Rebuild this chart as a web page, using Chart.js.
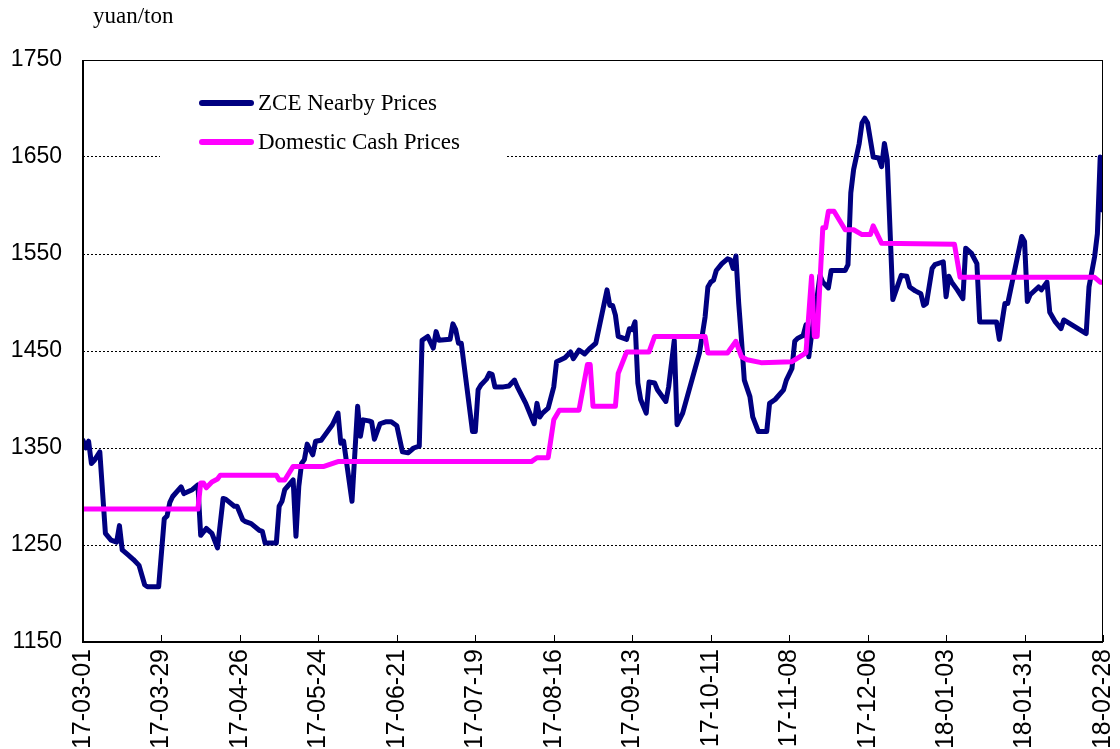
<!DOCTYPE html>
<html>
<head>
<meta charset="utf-8">
<script src="https://cdn.jsdelivr.net/npm/chart.js@4/dist/chart.umd.min.js"></script>
<style>
html,body{margin:0;padding:0;background:#fff;}
#wrap{width:1120px;height:749px;}
</style>
</head>
<body>
<div id="wrap"><canvas id="c" width="1120" height="749"></canvas></div>
<script>
// ---- data ----
const unitLabel = 'yuan/ton';
const seriesNames = ['ZCE Nearby Prices', 'Domestic Cash Prices'];
const seriesColors = ['#000080', '#FF00FF'];
const startDate = '2017-03-01';
const endDate = '2018-02-28';
const yTicks = [1150, 1250, 1350, 1450, 1550, 1650, 1750];

const zceDates = [
'2017-03-01','2017-03-02','2017-03-03','2017-03-04','2017-03-05','2017-03-07','2017-03-09','2017-03-11','2017-03-13','2017-03-14',
'2017-03-15','2017-03-17','2017-03-19','2017-03-21','2017-03-23','2017-03-24','2017-03-28','2017-03-30','2017-03-31','2017-04-01',
'2017-04-02','2017-04-05','2017-04-06','2017-04-09','2017-04-11','2017-04-12','2017-04-14','2017-04-16','2017-04-18','2017-04-20',
'2017-04-21','2017-04-24','2017-04-25','2017-04-27','2017-04-28','2017-04-30','2017-05-03','2017-05-04','2017-05-05','2017-05-09',
'2017-05-10','2017-05-11','2017-05-12','2017-05-15','2017-05-16','2017-05-17','2017-05-18','2017-05-19','2017-05-20','2017-05-22',
'2017-05-23','2017-05-25','2017-05-26','2017-05-29','2017-05-31','2017-06-01','2017-06-02','2017-06-05','2017-06-07','2017-06-08',
'2017-06-09','2017-06-11','2017-06-12','2017-06-13','2017-06-15','2017-06-17','2017-06-19','2017-06-21','2017-06-23','2017-06-25',
'2017-06-27','2017-06-29','2017-06-30','2017-07-02','2017-07-04','2017-07-05','2017-07-06','2017-07-10','2017-07-11','2017-07-12',
'2017-07-13','2017-07-14','2017-07-18','2017-07-19','2017-07-20','2017-07-21','2017-07-23','2017-07-24','2017-07-25','2017-07-26',
'2017-07-29','2017-07-31','2017-08-02','2017-08-03','2017-08-06','2017-08-08','2017-08-09','2017-08-10','2017-08-11','2017-08-12',
'2017-08-14','2017-08-16','2017-08-17','2017-08-20','2017-08-22','2017-08-23','2017-08-25','2017-08-27','2017-08-29','2017-08-31',
'2017-09-04','2017-09-05','2017-09-06','2017-09-07','2017-09-08','2017-09-11','2017-09-12','2017-09-13','2017-09-14','2017-09-15',
'2017-09-16','2017-09-18','2017-09-19','2017-09-21','2017-09-22','2017-09-25','2017-09-26','2017-09-28','2017-09-29','2017-10-01',
'2017-10-07','2017-10-09','2017-10-10','2017-10-11','2017-10-12','2017-10-13','2017-10-15','2017-10-17','2017-10-18','2017-10-19',
'2017-10-20','2017-10-21','2017-10-22','2017-10-23','2017-10-25','2017-10-26','2017-10-28','2017-10-31','2017-11-01','2017-11-03',
'2017-11-06','2017-11-07','2017-11-09','2017-11-10','2017-11-11','2017-11-13','2017-11-14','2017-11-15','2017-11-17','2017-11-18',
'2017-11-19','2017-11-20','2017-11-22','2017-11-23','2017-11-28','2017-11-29','2017-11-30','2017-12-01','2017-12-03','2017-12-04',
'2017-12-05','2017-12-06','2017-12-08','2017-12-10','2017-12-11','2017-12-12','2017-12-13','2017-12-15','2017-12-18','2017-12-20',
'2017-12-21','2017-12-23','2017-12-25','2017-12-26','2017-12-27','2017-12-29','2017-12-30','2018-01-02','2018-01-03','2018-01-04',
'2018-01-05','2018-01-07','2018-01-09','2018-01-10','2018-01-12','2018-01-14','2018-01-15','2018-01-21','2018-01-22','2018-01-24',
'2018-01-25','2018-01-30','2018-01-31','2018-02-01','2018-02-02','2018-02-05','2018-02-06','2018-02-08','2018-02-09','2018-02-11',
'2018-02-13','2018-02-14','2018-02-22','2018-02-23','2018-02-25','2018-02-26','2018-02-27','2018-02-28'
];
const zceValues = [
1358,1350,1357,1334,1337,1346,1262,1255,1253,1270,
1245,1240,1235,1229,1209,1207,1207,1277,1280,1294,
1300,1310,1303,1307,1312,1260,1267,1262,1247,1298,
1297,1290,1290,1276,1274,1272,1265,1264,1252,1252,
1290,1295,1307,1317,1259,1310,1334,1338,1354,1343,
1357,1358,1362,1374,1386,1355,1357,1295,1393,1362,
1379,1378,1377,1359,1375,1377,1377,1373,1346,1345,
1350,1352,1461,1465,1453,1470,1461,1462,1478,1472,
1458,1458,1367,1367,1410,1415,1421,1427,1426,1413,
1413,1414,1420,1413,1396,1382,1375,1396,1382,1386,
1391,1413,1439,1443,1449,1442,1451,1447,1453,1458,
1513,1497,1497,1487,1465,1462,1473,1472,1480,1417,
1400,1386,1418,1417,1410,1398,1413,1461,1374,1386,
1448,1485,1516,1521,1523,1533,1540,1545,1544,1535,
1548,1499,1461,1420,1403,1382,1367,1367,1396,1400,
1410,1420,1432,1460,1463,1466,1477,1444,1489,1506,
1528,1521,1515,1533,1533,1539,1613,1637,1664,1685,
1690,1685,1650,1649,1640,1664,1647,1503,1528,1527,
1516,1512,1509,1497,1499,1535,1539,1542,1506,1527,
1521,1513,1504,1556,1551,1540,1480,1480,1462,1499,
1499,1568,1563,1501,1508,1516,1513,1521,1490,1480,
1473,1482,1468,1516,1547,1571,1650,1595
];

const cashDates = [
'2017-03-01','2017-04-11','2017-04-12','2017-04-13','2017-04-14','2017-04-16','2017-04-18','2017-04-19','2017-05-09','2017-05-10',
'2017-05-12','2017-05-15','2017-05-26','2017-05-31','2017-08-08','2017-08-10','2017-08-14','2017-08-16','2017-08-17','2017-08-18',
'2017-08-25','2017-08-28','2017-08-29','2017-08-30','2017-09-07','2017-09-08','2017-09-11','2017-09-19','2017-09-21','2017-10-09',
'2017-10-10','2017-10-17','2017-10-20','2017-10-22','2017-10-24','2017-10-29','2017-11-09','2017-11-14','2017-11-16','2017-11-17',
'2017-11-18','2017-11-20','2017-11-21','2017-11-22','2017-11-24','2017-11-28','2017-12-01','2017-12-04','2017-12-07','2017-12-08',
'2017-12-11','2018-01-06','2018-01-08','2018-02-25','2018-02-27','2018-02-28'
];
const cashValues = [
1287,1287,1314,1314,1309,1315,1318,1322,1322,1317,
1317,1331,1331,1336,1336,1340,1340,1379,1384,1389,
1389,1436,1436,1393,1393,1427,1449,1449,1465,1465,
1448,1448,1460,1444,1441,1438,1439,1448,1527,1465,
1465,1577,1577,1594,1594,1575,1575,1570,1570,1579,
1561,1560,1526,1526,1521,1521
];

// ---- helpers ----
const DAY = 86400000;
function toUTC(s){ const p = s.split('-').map(Number); return Date.UTC(p[0], p[1]-1, p[2]); }
const t0 = toUTC(startDate);
const dayOf = s => Math.round((toUTC(s) - t0) / DAY);
const lastDay = dayOf(endDate);
function fmtDay(v){
  const d = new Date(t0 + v * DAY);
  const yy = String(d.getUTCFullYear()).slice(2);
  const mm = String(d.getUTCMonth()+1).padStart(2,'0');
  const dd = String(d.getUTCDate()).padStart(2,'0');
  return yy + '-' + mm + '-' + dd;
}
const xTickDays = [];
for (let v = 0; v <= lastDay; v += 28) xTickDays.push(v);

const SANS = '"Liberation Sans", Arial, sans-serif';
const SERIF = '"Liberation Serif", "Times New Roman", serif';

const decorPlugin = {
  id: 'decor',
  afterDatasetsDraw(chart){
    const ctx = chart.ctx, a = chart.chartArea, xs = chart.scales.x;
    ctx.save();
    // legend box
    ctx.fillStyle = '#fff';
    ctx.fillRect(160, 76, 347, 90);
    const items = chart.data.datasets;
    const rows = [103, 142];
    ctx.lineCap = 'round';
    items.forEach((ds, i) => {
      const y = rows[i];
      ctx.strokeStyle = ds.borderColor;
      ctx.lineWidth = 6;
      ctx.beginPath(); ctx.moveTo(202, y); ctx.lineTo(251, y); ctx.stroke();
      ctx.fillStyle = '#000';
      ctx.font = '23px ' + SERIF;
      ctx.textBaseline = 'middle';
      ctx.textAlign = 'left';
      ctx.fillText(ds.label, 258, y + 1);
    });
    // frame
    ctx.lineCap = 'butt';
    ctx.strokeStyle = '#000';
    ctx.lineWidth = 1;
    ctx.beginPath();
    ctx.moveTo(a.left, a.top + 0.5); ctx.lineTo(a.right, a.top + 0.5);
    ctx.moveTo(a.right - 0.5, a.top); ctx.lineTo(a.right - 0.5, a.bottom);
    ctx.stroke();
    ctx.lineWidth = 2;
    ctx.beginPath();
    ctx.moveTo(a.left, a.top); ctx.lineTo(a.left, a.bottom + 1);
    ctx.moveTo(a.left - 1, a.bottom); ctx.lineTo(a.right, a.bottom);
    ctx.stroke();
    // inside tick marks on the x axis
    ctx.lineWidth = 1;
    ctx.beginPath();
    xs.ticks.forEach(t => {
      const px = Math.round(xs.getPixelForValue(t.value)) + 0.5;
      ctx.moveTo(px, a.bottom); ctx.lineTo(px, a.bottom - 7);
    });
    ctx.stroke();
    // unit label
    ctx.fillStyle = '#000';
    ctx.font = '23px ' + SERIF;
    ctx.textBaseline = 'alphabetic';
    ctx.textAlign = 'left';
    ctx.fillText(unitLabel, 93, 23);
    ctx.restore();
  }
};

new Chart(document.getElementById('c'), {
  type: 'line',
  data: {
    datasets: [
      {
        label: seriesNames[0],
        data: zceDates.map((d, i) => ({x: dayOf(d), y: zceValues[i]})),
        borderColor: seriesColors[0],
        backgroundColor: seriesColors[0],
        borderWidth: 5,
        pointRadius: 0,
        tension: 0,
        borderJoinStyle: 'round',
        borderCapStyle: 'round',
        order: 2
      },
      {
        label: seriesNames[1],
        data: cashDates.map((d, i) => ({x: dayOf(d), y: cashValues[i]})),
        borderColor: seriesColors[1],
        backgroundColor: seriesColors[1],
        borderWidth: 5,
        pointRadius: 0,
        tension: 0,
        borderJoinStyle: 'round',
        borderCapStyle: 'round',
        order: 1
      }
    ]
  },
  options: {
    responsive: false,
    animation: false,
    devicePixelRatio: 1,
    layout: { padding: { top: 60, right: 17, left: 0, bottom: 0 } },
    plugins: { legend: { display: false }, tooltip: { enabled: false }, title: { display: false } },
    scales: {
      x: {
        type: 'linear',
        min: 0,
        max: lastDay,
        afterBuildTicks: s => { s.ticks = xTickDays.map(v => ({value: v})); },
        afterFit: s => { s.height = 107; s.paddingRight = 0; s.paddingLeft = 0; },
        grid: { display: false, drawTicks: false },
        border: { display: false },
        ticks: {
          autoSkip: false,
          maxRotation: 90,
          minRotation: 90,
          padding: 7,
          color: '#000',
          font: { family: SANS, size: 25 },
          callback: v => fmtDay(v)
        }
      },
      y: {
        min: yTicks[0],
        max: yTicks[yTicks.length - 1],
        afterBuildTicks: s => { s.ticks = yTicks.map(v => ({value: v})); },
        afterFit: s => { s.width = 83; s.paddingTop = 0; s.paddingBottom = 0; },
        grid: {
          drawTicks: false,
          lineWidth: 1,
          color: c => (c.tick && (c.tick.value === yTicks[0] || c.tick.value === yTicks[yTicks.length-1])) ? 'rgba(0,0,0,0)' : '#000'
        },
        border: { display: false, dash: [2, 2] },
        ticks: {
          padding: 21,
          color: '#000',
          font: { family: SANS, size: 23 },
          callback: v => String(v)
        }
      }
    }
  },
  plugins: [decorPlugin]
});
</script>
</body>
</html>
